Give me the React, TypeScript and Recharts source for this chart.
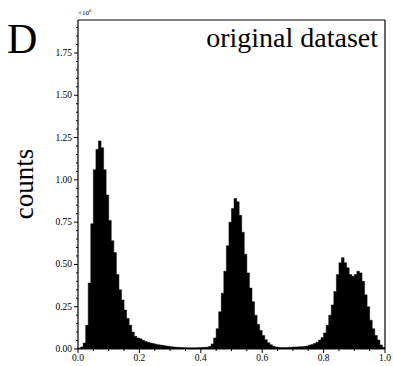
import { ComposedChart, Area, XAxis, YAxis, ReferenceLine } from "recharts";

// histogram counts, in units of 1e6, 120 equal bins on [0, 1]
const counts = [
  0.005, 0.012, 0.035, 0.14, 0.39, 0.74, 1.06, 1.18, 1.23, 1.19,
  1.06, 0.91, 0.76, 0.64, 0.57, 0.44, 0.35, 0.29, 0.23, 0.18,
  0.14, 0.1, 0.075, 0.065, 0.06, 0.052, 0.045, 0.04, 0.035, 0.032,
  0.028, 0.025, 0.023, 0.021, 0.018, 0.016, 0.014, 0.012, 0.011, 0.01,
  0.009, 0.009, 0.008, 0.008, 0.008, 0.008, 0.008, 0.009, 0.009, 0.01,
  0.011, 0.015, 0.03, 0.065, 0.12, 0.22, 0.33, 0.46, 0.61, 0.75,
  0.83, 0.89, 0.87, 0.79, 0.69, 0.56, 0.45, 0.36, 0.28, 0.2,
  0.145, 0.11, 0.08, 0.055, 0.037, 0.025, 0.016, 0.012, 0.01, 0.009,
  0.009, 0.009, 0.01, 0.011, 0.012, 0.012, 0.013, 0.014, 0.015, 0.018,
  0.022, 0.027, 0.033, 0.04, 0.053, 0.068, 0.095, 0.14, 0.2, 0.26,
  0.34, 0.44, 0.51, 0.54, 0.51, 0.48, 0.44, 0.43, 0.44, 0.46,
  0.45, 0.4, 0.32, 0.25, 0.17, 0.12, 0.08, 0.053, 0.024, 0.01,
];

const xMajorTicks = [0, 0.2, 0.4, 0.6, 0.8, 1.0];
const yMajorTicks = [0, 0.25, 0.5, 0.75, 1.0, 1.25, 1.5, 1.75];
const Y_MAX = 1.945;

// bins as left edges, plus the closing right edge, drawn as a filled step area
const binWidth = 1 / counts.length;
const data = [
  ...counts.map((v, i) => ({ x: i * binWidth, v })),
  { x: 1, v: counts[counts.length - 1] },
];

// minor ticks every 0.05 on both axes
const xTicks = Array.from({ length: 21 }, (_, i) => +(i * 0.05).toFixed(2));
const yTicks = Array.from({ length: 39 }, (_, i) => +(i * 0.05).toFixed(2));

const FONT = "'Liberation Serif', 'Times New Roman', serif";

const isMajor = (v: number, list: number[]) => list.some((t) => Math.abs(t - v) < 1e-6);

const YTick = (props: any) => {
  const { x, y, payload } = props;
  const major = isMajor(payload.value, yMajorTicks);
  return (
    <g>
      <line x1={x - (major ? 4 : 2)} x2={x} y1={y} y2={y} stroke="#000" strokeWidth={1} />
      {major && (
        <text x={x - 6} y={y + 3} textAnchor="end" fontSize={9.5} fontFamily={FONT} fill="#000">
          {payload.value.toFixed(2)}
        </text>
      )}
    </g>
  );
};

const XTick = (props: any) => {
  const { x, y, payload } = props;
  const major = isMajor(payload.value, xMajorTicks);
  return (
    <g>
      <line x1={x} x2={x} y1={y} y2={y + (major ? 4 : 2)} stroke="#000" strokeWidth={1} />
      {major && (
        <text x={x} y={y + 12} textAnchor="middle" fontSize={9.5} fontFamily={FONT} fill="#000">
          {payload.value.toFixed(1)}
        </text>
      )}
    </g>
  );
};

export default function App() {
  return (
    <div style={{ position: "absolute", left: 0, top: 0, width: 393, height: 366, background: "#fff" }}>
      <ComposedChart
        width={393}
        height={366}
        data={data}
        margin={{ top: 20, right: 8, bottom: 0, left: 0 }}
      >
        <XAxis
          type="number"
          dataKey="x"
          domain={[0, 1]}
          ticks={xTicks}
          interval={0}
          height={17}
          tickSize={0}
          tickMargin={0}
          tick={<XTick />}
          axisLine={{ stroke: "#000", strokeWidth: 1.2 }}
          tickLine={false}
        />
        <YAxis
          type="number"
          domain={[0, Y_MAX]}
          ticks={yTicks}
          interval={0}
          width={78}
          tickSize={0}
          tickMargin={0}
          tick={<YTick />}
          axisLine={{ stroke: "#000", strokeWidth: 1.2 }}
          tickLine={false}
          allowDataOverflow
        />
        <Area
          type="stepAfter"
          dataKey="v"
          fill="#000"
          fillOpacity={1}
          stroke="#000"
          strokeWidth={0.5}
          dot={false}
          activeDot={false}
          isAnimationActive={false}
        />
        <ReferenceLine y={Y_MAX} stroke="#000" strokeWidth={1.2} />
        <ReferenceLine x={1} stroke="#000" strokeWidth={1.2} />
      </ComposedChart>
      <svg
        width={393}
        height={366}
        style={{ position: "absolute", left: 0, top: 0, pointerEvents: "none" }}
      >
        <text x={7} y={53} fontSize={42} fontFamily={FONT} fill="#000">D</text>
        <text x={378} y={47} textAnchor="end" fontSize={28} fontFamily={FONT} fill="#000">
          original dataset
        </text>
        <text
          x={33}
          y={184}
          transform="rotate(-90 33 184)"
          textAnchor="middle"
          fontSize={27}
          fontFamily={FONT}
          fill="#000"
        >
          counts
        </text>
        <text x={78} y={15} fontSize={7} fontFamily={FONT} fill="#000">
          ×10<tspan dy={-3} fontSize={5}>6</tspan>
        </text>
      </svg>
    </div>
  );
}
